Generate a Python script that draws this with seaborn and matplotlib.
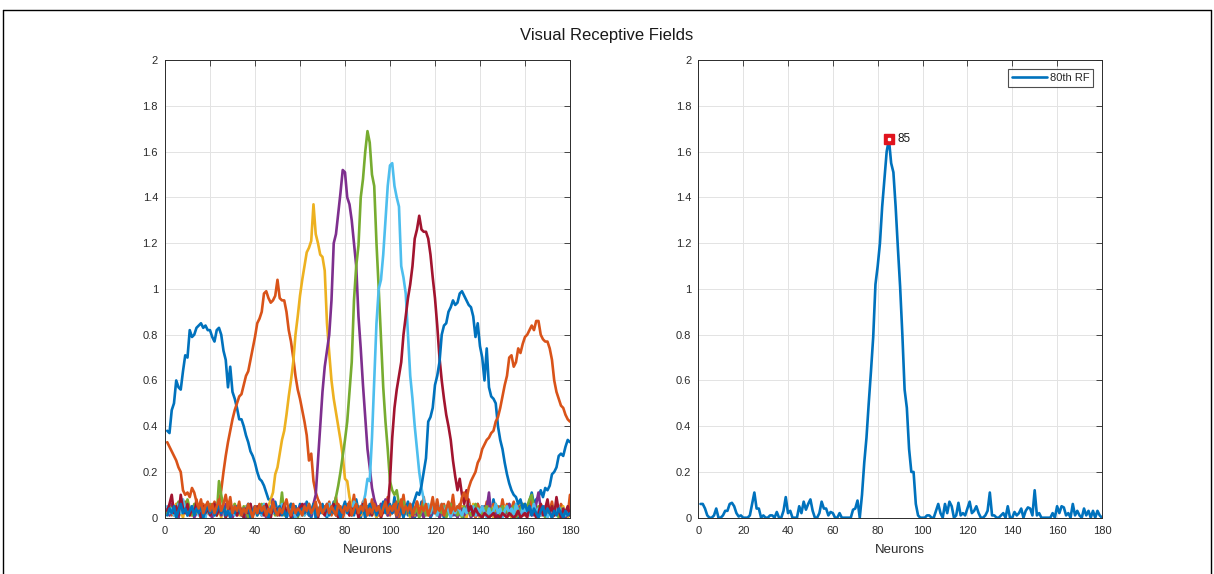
import numpy as np
import pandas as pd
import matplotlib
matplotlib.use("Agg")
import matplotlib.pyplot as plt
from matplotlib.lines import Line2D
import seaborn as sns

# ---------------- data (x = neuron index 1..180) ----------------
rf_blue_a = [
    .38,.37,.47,.50,.60,.57,.56,.64,.71,.70,
    .82,.79,.80,.83,.84,.85,.83,.84,.82,.82,
    .79,.77,.82,.83,.80,.73,.69,.57,.66,.55,
    .52,.48,.43,.43,.40,.36,.33,.29,.27,.24,
    .20,.17,.16,.14,.11,.08,.08,.05,.07,.03,
    .05,.02,.06,.01,.04,.03,.00,.05,.02,.06,
    .01,.03,.07,.02,.00,.04,.05,.01,.03,.06,
    .02,.00,.05,.03,.07,.01,.04,.02,.00,.05,
    .03,.06,.01,.02,.08,.03,.00,.04,.02,.05,
    .01,.03,.06,.00,.04,.02,.05,.07,.01,.03,
    .02,.09,.03,.00,.05,.02,.04,.01,.06,.03,
    .00,.04,.02,.07,.01,.03,.05,.00,.02,.04,
    .06,.01,.03,.00,.05,.02,.04,.06,.01,.03,
    .02,.05,.00,.03,.07,.01,.04,.02,.06,.00,
    .03,.05,.01,.04,.02,.08,.03,.00,.05,.02,
    .04,.01,.06,.03,.05,.02,.00,.07,.04,.06,
    .04,.07,.11,.06,.08,.09,.12,.09,.13,.12,
    .14,.19,.20,.22,.27,.28,.27,.31,.34,.33]
rf_orange_a = [
    .02,.05,.01,.03,.06,.00,.04,.02,.07,.03,
    .01,.05,.02,.08,.03,.00,.06,.04,.02,.05,
    .03,.07,.04,.06,.12,.20,.27,.33,.38,.43,
    .47,.50,.53,.54,.58,.62,.64,.69,.74,.79,
    .85,.87,.90,.98,.99,.96,.94,.95,.97,1.04,
    .96,.95,.95,.90,.82,.77,.70,.62,.56,.52,
    .47,.42,.36,.25,.28,.16,.11,.08,.06,.03,
    .05,.02,.07,.01,.04,.09,.02,.05,.00,.03,
    .06,.01,.04,.10,.02,.05,.03,.07,.00,.04,
    .02,.08,.03,.05,.01,.06,.02,.04,.09,.01,
    .05,.03,.07,.00,.04,.10,.02,.06,.03,.05,
    .01,.07,.03,.04,.09,.02,.05,.01,.06,.03,
    .08,.02,.04,.06,.01,.05,.03,.10,.02,.04,
    .06,.01,.05,.03,.08,.02,.04,.00,.06,.03,
    .05,.02,.07,.04,.01,.06,.03,.05,.02,.08,
    .03,.06,.01,.04,.07,.02,.05,.03,.06,.01,
    .04,.02,.08,.03,.05,.01,.06,.04,.02,.05,
    .03,.07,.01,.05,.02,.06,.04,.03,.01,.10]
rf_yellow = [
    .03,.01,.04,.02,.06,.01,.03,.00,.05,.02,
    .04,.01,.03,.06,.02,.00,.04,.01,.03,.05,
    .02,.04,.01,.03,.00,.05,.02,.01,.04,.02,
    .06,.03,.01,.04,.02,.05,.00,.03,.01,.04,
    .03,.05,.02,.06,.04,.05,.08,.11,.19,.22,
    .28,.34,.38,.45,.53,.60,.68,.80,.88,.97,
    1.04,1.10,1.16,1.18,1.21,1.37,1.24,1.20,1.15,1.14,
    1.08,.85,.72,.60,.52,.46,.40,.34,.27,.17,
    .16,.09,.05,.02,.06,.03,.01,.04,.07,.02,
    .05,.01,.03,.00,.04,.02,.06,.03,.01,.05,
    .02,.04,.00,.03,.05,.01,.02,.04,.00,.03,
    .01,.03,.05,.02,.00,.04,.01,.03,.06,.02,
    .04,.00,.02,.05,.01,.03,.00,.04,.02,.01,
    .03,.05,.01,.00,.04,.02,.06,.01,.03,.00,
    .02,.04,.01,.03,.05,.00,.02,.04,.01,.03,
    .05,.01,.03,.00,.02,.04,.01,.06,.02,.03,
    .01,.04,.02,.05,.00,.03,.01,.02,.04,.01,
    .03,.00,.02,.04,.01,.03,.05,.02,.00,.02]
rf_purple = [
    .04,.01,.06,.02,.03,.00,.05,.02,.04,.01,
    .03,.05,.00,.02,.04,.06,.01,.03,.05,.02,
    .00,.04,.02,.05,.01,.03,.06,.02,.04,.00,
    .03,.01,.05,.02,.04,.00,.03,.06,.01,.04,
    .02,.05,.01,.03,.00,.04,.02,.08,.03,.01,
    .05,.02,.04,.00,.03,.06,.01,.04,.02,.05,
    .03,.06,.02,.05,.01,.06,.10,.25,.40,.55,
    .66,.73,.80,.95,1.20,1.24,1.33,1.42,1.52,1.51,
    1.40,1.37,1.30,1.20,1.10,.88,.74,.58,.44,.30,
    .22,.13,.08,.05,.02,.06,.03,.08,.01,.04,
    .02,.05,.00,.03,.06,.01,.04,.02,.05,.00,
    .03,.01,.04,.02,.00,.05,.03,.01,.04,.02,
    .05,.00,.03,.01,.04,.02,.06,.01,.03,.00,
    .02,.04,.01,.05,.03,.00,.02,.04,.01,.03,
    .05,.02,.04,.11,.01,.03,.00,.04,.02,.05,
    .01,.03,.06,.02,.04,.00,.03,.05,.01,.04,
    .02,.05,.03,.01,.06,.11,.04,.02,.05,.01,
    .03,.00,.04,.02,.05,.01,.03,.00,.02,.01]
rf_green = [
    .02,.05,.03,.01,.04,.07,.02,.05,.03,.08,
    .04,.01,.06,.02,.05,.03,.00,.04,.02,.06,
    .03,.05,.01,.16,.10,.04,.02,.05,.01,.03,
    .06,.02,.04,.01,.05,.03,.00,.04,.02,.05,
    .01,.03,.06,.02,.04,.00,.05,.03,.01,.04,
    .02,.11,.01,.04,.03,.06,.02,.04,.00,.03,
    .05,.01,.03,.06,.02,.04,.01,.03,.05,.02,
    .04,.02,.06,.03,.05,.09,.14,.20,.27,.34,
    .42,.55,.68,.95,1.10,1.19,1.40,1.48,1.60,1.69,
    1.64,1.50,1.45,1.20,1.00,.78,.57,.42,.30,.16,
    .12,.10,.12,.06,.03,.07,.02,.05,.01,.04,
    .02,.05,.00,.03,.06,.01,.04,.02,.05,.03,
    .01,.04,.02,.05,.00,.03,.06,.02,.04,.01,
    .03,.00,.05,.02,.04,.01,.03,.06,.02,.04,
    .00,.03,.05,.01,.04,.02,.06,.03,.01,.05,
    .02,.04,.01,.03,.05,.00,.02,.04,.06,.03,
    .05,.08,.10,.04,.02,.05,.01,.03,.00,.04,
    .02,.05,.01,.03,.00,.04,.02,.01,.03,.02]
rf_lightblue = [
    .05,.02,.04,.01,.03,.06,.02,.08,.04,.01,
    .03,.05,.02,.06,.01,.04,.03,.00,.05,.02,
    .04,.01,.06,.03,.05,.02,.00,.04,.02,.05,
    .01,.03,.05,.02,.00,.04,.06,.01,.03,.05,
    .02,.04,.01,.06,.03,.00,.05,.02,.04,.01,
    .03,.06,.02,.04,.01,.05,.03,.00,.02,.04,
    .05,.01,.03,.06,.02,.04,.00,.03,.05,.02,
    .04,.01,.06,.03,.05,.02,.04,.01,.03,.06,
    .02,.05,.03,.07,.04,.02,.05,.06,.10,.17,
    .16,.35,.60,.85,1.00,1.04,1.15,1.30,1.45,1.54,
    1.55,1.45,1.40,1.36,1.10,1.05,.98,.80,.62,.52,
    .40,.30,.20,.13,.08,.04,.06,.02,.05,.03,
    .01,.04,.06,.02,.05,.03,.00,.04,.02,.05,
    .03,.01,.04,.02,.06,.03,.05,.01,.04,.02,
    .05,.02,.00,.04,.01,.03,.06,.02,.04,.00,
    .03,.05,.02,.04,.01,.06,.03,.00,.05,.02,
    .04,.01,.03,.06,.02,.04,.01,.05,.03,.00,
    .02,.04,.01,.03,.05,.02,.04,.01,.03,.02]
rf_darkred = [
    .03,.06,.10,.02,.05,.01,.10,.04,.02,.06,
    .01,.04,.02,.07,.03,.00,.05,.02,.04,.01,
    .03,.06,.01,.04,.02,.05,.00,.03,.06,.02,
    .04,.01,.05,.03,.00,.04,.02,.06,.01,.03,
    .05,.02,.04,.01,.06,.03,.00,.05,.02,.04,
    .01,.03,.06,.02,.04,.00,.05,.03,.01,.04,
    .06,.02,.04,.01,.03,.05,.02,.00,.04,.03,
    .01,.05,.02,.04,.06,.03,.00,.04,.02,.05,
    .03,.01,.04,.02,.05,.00,.03,.06,.02,.04,
    .03,.01,.05,.02,.04,.00,.03,.06,.04,.16,
    .35,.48,.56,.62,.68,.80,.88,.96,1.02,1.10,
    1.22,1.26,1.32,1.26,1.25,1.25,1.22,1.15,1.05,.96,
    .84,.70,.60,.52,.45,.40,.34,.25,.18,.12,
    .17,.10,.06,.12,.03,.05,.01,.04,.02,.01,
    .00,.02,.01,.00,.01,.02,.00,.01,.00,.02,
    .01,.00,.02,.01,.00,.01,.03,.00,.01,.02,
    .00,.05,.01,.03,.00,.02,.06,.01,.04,.08,
    .02,.05,.01,.09,.03,.00,.04,.02,.05,.01]
rf_blue_b = [
    .01,.04,.02,.05,.00,.03,.06,.02,.04,.01,
    .03,.05,.01,.04,.02,.06,.00,.03,.05,.02,
    .04,.01,.03,.06,.02,.05,.01,.03,.00,.04,
    .02,.05,.03,.01,.04,.02,.06,.00,.03,.05,
    .01,.04,.02,.05,.03,.00,.04,.06,.02,.03,
    .05,.01,.03,.00,.04,.06,.02,.05,.01,.03,
    .04,.02,.05,.01,.03,.06,.00,.04,.02,.05,
    .03,.06,.01,.04,.02,.05,.03,.00,.04,.07,
    .02,.05,.03,.01,.06,.04,.02,.05,.00,.03,
    .06,.02,.04,.01,.05,.03,.07,.02,.04,.06,
    .02,.05,.01,.06,.03,.00,.04,.07,.02,.05,
    .08,.11,.10,.14,.20,.26,.42,.44,.48,.58,
    .62,.68,.80,.84,.85,.90,.92,.95,.93,.94,
    .98,.99,.97,.95,.93,.92,.88,.79,.85,.75,
    .70,.60,.74,.57,.53,.52,.50,.40,.34,.30,
    .24,.19,.15,.12,.10,.09,.06,.08,.04,.06,
    .03,.05,.01,.04,.02,.00,.03,.05,.01,.04,
    .02,.00,.03,.01,.04,.02,.00,.03,.01,.02]
rf_orange_b = [
    .33,.31,.29,.27,.25,.22,.20,.12,.10,.11,
    .09,.13,.11,.07,.04,.08,.02,.05,.07,.03,
    .06,.02,.05,.08,.03,.06,.10,.04,.09,.02,
    .05,.03,.07,.01,.04,.02,.06,.03,.00,.05,
    .02,.06,.03,.05,.01,.04,.02,.07,.03,.01,
    .04,.02,.05,.08,.03,.01,.06,.02,.04,.03,
    .01,.05,.03,.06,.02,.04,.07,.01,.05,.02,
    .04,.06,.02,.05,.03,.01,.06,.04,.02,.05,
    .03,.07,.01,.04,.06,.02,.05,.03,.08,.01,
    .04,.02,.06,.03,.05,.01,.04,.07,.02,.05,
    .03,.06,.01,.04,.08,.02,.05,.03,.06,.01,
    .04,.07,.02,.05,.03,.06,.01,.04,.09,.02,
    .05,.03,.06,.01,.04,.07,.02,.05,.03,.05,
    .04,.09,.11,.08,.13,.16,.18,.20,.24,.26,
    .30,.32,.34,.35,.37,.38,.42,.44,.48,.53,
    .58,.62,.70,.71,.66,.68,.74,.72,.76,.79,
    .80,.82,.84,.82,.86,.86,.80,.78,.77,.77,
    .74,.69,.60,.55,.52,.49,.48,.45,.43,.42]

rf_80 = [
    .06,.06,.04,.01,.00,.00,.01,.04,.00,.00,
    .01,.03,.03,.06,.065,.05,.02,.005,.01,.00,
    .00,.00,.01,.06,.11,.04,.04,.00,.01,.00,
    .00,.01,.01,.00,.025,.00,.00,.03,.09,.02,
    .03,.00,.00,.00,.05,.02,.07,.035,.06,.08,
    .03,.00,.00,.02,.07,.04,.04,.01,.025,.02,
    .00,.00,.02,.00,.00,.00,.00,.00,.035,.04,
    .075,.00,.10,.24,.35,.50,.64,.79,1.02,1.10,
    1.20,1.36,1.48,1.60,1.655,1.55,1.51,1.36,1.18,1.01,
    .80,.56,.48,.30,.20,.20,.06,.01,.00,.00,
    .00,.01,.01,.00,.00,.03,.06,.02,.00,.06,
    .02,.07,.05,.00,.01,.065,.01,.02,.01,.04,
    .07,.02,.03,.05,.02,.00,.00,.01,.03,.11,
    .01,.01,.00,.00,.01,.02,.00,.05,.00,.00,
    .025,.01,.02,.04,.00,.03,.045,.04,.01,.12,
    .01,.02,.00,.00,.00,.00,.00,.02,.00,.05,
    .02,.05,.045,.01,.02,.00,.06,.01,.03,.01,
    .00,.04,.01,.03,.00,.03,.00,.03,.01,.00]

curve_names = ["RF 1", "RF 2", "RF 3", "RF 4", "RF 5", "RF 6", "RF 7", "RF 8", "RF 9"]
curve_values = [rf_blue_a, rf_orange_a, rf_yellow, rf_purple, rf_green,
                rf_lightblue, rf_darkred, rf_blue_b, rf_orange_b]
matlab_colors = ["#0072BD", "#D95319", "#EDB120", "#7E2F8E", "#77AC30",
                 "#4DBEEE", "#A2142F", "#0072BD", "#D95319"]
x_ticks = [0, 20, 40, 60, 80, 100, 120, 140, 160, 180]
y_ticks = [0, 0.2, 0.4, 0.6, 0.8, 1, 1.2, 1.4, 1.6, 1.8, 2]
y_tick_labels = ["0", "0.2", "0.4", "0.6", "0.8", "1", "1.2", "1.4", "1.6", "1.8", "2"]
title_text = "Visual Receptive Fields"
x_label = "Neurons"
legend_label = "80th RF"

# ---------------- build frames ----------------
rows = []
for name, vals in zip(curve_names, curve_values):
    for i, v in enumerate(vals):
        rows.append((name, i + 1, v))
df = pd.DataFrame(rows, columns=["curve", "neuron", "response"])
df80 = pd.DataFrame({"neuron": np.arange(1, len(rf_80) + 1), "response": rf_80})

# ---------------- style ----------------
sns.set_style("white")
plt.rcParams["font.family"] = ["Liberation Sans", "DejaVu Sans"]
axis_col = "#2b2b2b"

fig = plt.figure(figsize=(12.14, 5.74), dpi=100)
ax1 = fig.add_axes([0.1359, 0.0981, 0.3336, 0.797])
ax2 = fig.add_axes([0.5752, 0.0981, 0.3325, 0.797])

sns.lineplot(data=df, x="neuron", y="response", hue="curve", hue_order=curve_names,
             palette=dict(zip(curve_names, matlab_colors)), estimator=None,
             legend=False, ax=ax1, linewidth=1.9)

sns.lineplot(data=df80, x="neuron", y="response", color="#0072BD", estimator=None,
             label=legend_label, ax=ax2, linewidth=1.9)

# peak marker (data tip)
peak_idx = int(np.argmax(rf_80))
px, py = df80["neuron"][peak_idx], rf_80[peak_idx]
ax2.plot([px], [py], marker="s", markersize=6.5, markerfacecolor="#E0141E",
         markeredgecolor="#E0141E", zorder=5)
ax2.plot([px], [py], marker="s", markersize=1.5, markerfacecolor="white",
         markeredgecolor="white", zorder=6)
ax2.annotate(str(px), (px, py), xytext=(6, 0), textcoords="offset points",
             ha="left", va="center", fontsize=8.5, color="#1a1a1a")

for ax in (ax1, ax2):
    ax.set_xlim(0, 180)
    ax.set_ylim(0, 2)
    ax.set_xticks(x_ticks)
    ax.set_xticklabels([str(t) for t in x_ticks])
    ax.set_yticks(y_ticks)
    ax.set_yticklabels(y_tick_labels)
    ax.grid(True, color="#e3e3e3", linewidth=0.7)
    ax.set_axisbelow(True)
    ax.tick_params(direction="in", top=True, right=True, length=4, width=0.6,
                   colors=axis_col, labelsize=8, pad=5)
    ax.tick_params(axis="x", pad=6)
    for s in ax.spines.values():
        s.set_color(axis_col)
        s.set_linewidth(0.7)
    ax.set_xlabel(x_label, fontsize=9.5, color=axis_col, labelpad=6)
    ax.set_ylabel("")

leg = ax2.legend(loc="upper right", fontsize=8, handlelength=3.2, frameon=True,
                 fancybox=False, borderaxespad=0.8, borderpad=0.35, handletextpad=0.2)
leg.get_frame().set_edgecolor("#222222")
leg.get_frame().set_linewidth(0.8)

fig.text(0.5, 0.939, title_text, ha="center", va="center", fontsize=12, color="#1a1a1a")

# figure frame (left, top, right)
fy = 1 - 10 / 574
fig.add_artist(Line2D([3 / 1214, 3 / 1214], [0, fy], transform=fig.transFigure, color="black", lw=1))
fig.add_artist(Line2D([3 / 1214, 1211 / 1214], [fy, fy], transform=fig.transFigure, color="black", lw=1))
fig.add_artist(Line2D([1211 / 1214, 1211 / 1214], [0, fy], transform=fig.transFigure, color="black", lw=1))

fig.savefig("out.png", dpi=100)
